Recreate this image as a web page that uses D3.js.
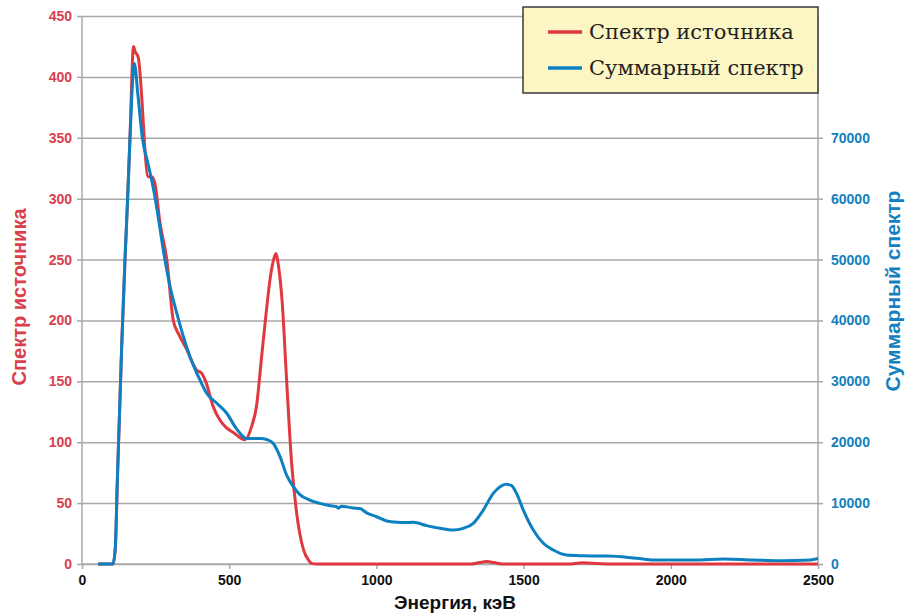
<!DOCTYPE html>
<html><head><meta charset="utf-8">
<script src="https://cdn.jsdelivr.net/npm/d3@7"></script>
<style>
html,body{margin:0;padding:0;background:#fff;}
svg{display:block;}
</style></head>
<body>
<svg id="chart" width="908" height="615"></svg>
<script>
// ---- data ----
const xTicks = [0, 500, 1000, 1500, 2000, 2500];
const leftTicks = [0, 50, 100, 150, 200, 250, 300, 350, 400, 450];
const rightTicks = [0, 10000, 20000, 30000, 40000, 50000, 60000, 70000];

const seriesNames = ["Спектр источника", "Суммарный спектр"];

// Source spectrum (left axis)
const sourceEnergy = [55,105,113,120,135,146,155,163,175,180,191,225,237,248,265,288,310,330,356,390,405,420,446,469,490,514,554,575,593,610,625,640,652,659,666,680,695,712,729,752,770,780,800,1320,1350,1375,1400,1430,1650,1700,1750,1800,2500];
const sourceCounts = [0,0,12,68,180,250,300,350,425,421,416,318,318,312,280,250,200,188,176,159,157,150,129,118,112,108,102,112,130,170,205,236,251,255,247,215,151,83,42,12,3,0.5,0,0,1.2,2,1.2,0,0,1,0.5,0,0];

// Summed spectrum (right axis)
const sumEnergy = [55,105,113,120,135,146,155,163,178,190,205,225,245,262,280,299,322,344,367,401,424,458,491,525,559,605,630,650,673,695,718,740,774,808,840,865,872,880,921,944,967,1001,1035,1069,1100,1125,1171,1216,1261,1295,1329,1363,1397,1420,1440,1458,1476,1499,1533,1567,1601,1646,1703,1760,1786,1884,1943,2081,2179,2278,2376,2474,2500];
const sumCounts = [0,0,2600,13800,36000,50000,60000,70000,82200,77000,70000,65600,61000,56000,50400,45600,41200,37400,34000,30200,28000,26400,24800,22200,20600,20600,20400,19800,17600,14600,12700,11400,10500,9960,9600,9400,9160,9500,9200,9100,8400,7760,7060,6840,6800,6840,6300,5860,5580,5860,6680,8860,11600,12700,13100,12900,11600,8860,5580,3400,2300,1480,1360,1320,1320,940,660,660,840,660,540,660,900];

// ---- layout ----
const svg = d3.select("#chart");
const L = 82, R = 818, T = 16, B = 564;
const red = "#e0383f", blue = "#0d80c2", redText = "#d9404c", blueText = "#1480bd", grid = "#a8a8a8";

const x = d3.scaleLinear().domain([0, 2500]).range([L, R]);
const y = d3.scaleLinear().domain([0, 450]).range([B, T]);
const y2 = d3.scaleLinear().domain([0, 90000]).range([B, T]);

// gridlines
const gGrid = svg.append("g").attr("transform", `translate(${L},0)`)
  .call(d3.axisLeft(y).tickValues(leftTicks).tickSize(-(R - L)).tickFormat(""));
gGrid.select(".domain").remove();
gGrid.selectAll("line").attr("stroke", grid).attr("stroke-width", 1.5);

const tickFont = "bold 14px 'Liberation Sans', Arial, sans-serif";

// left axis
const gL = svg.append("g").attr("transform", `translate(${L},0)`)
  .call(d3.axisLeft(y).tickValues(leftTicks).tickSize(5).tickPadding(5));
gL.select(".domain").attr("stroke", grid).attr("stroke-width", 1.5).attr("d", `M0,${B}V${T}`);
gL.selectAll(".tick line").attr("stroke", grid).attr("stroke-width", 1.5);
gL.selectAll(".tick text").attr("fill", redText).style("font", tickFont);

// right axis
const gR = svg.append("g").attr("transform", `translate(${R},0)`)
  .call(d3.axisRight(y2).tickValues(rightTicks).tickSize(5).tickPadding(8).tickFormat(d3.format("d")));
gR.select(".domain").attr("stroke", grid).attr("stroke-width", 1.5).attr("d", `M0,${B}V${T}`);
gR.selectAll(".tick line").attr("stroke", grid).attr("stroke-width", 1.5);
gR.selectAll(".tick text").attr("fill", blueText).style("font", tickFont);

// bottom axis
const gB = svg.append("g").attr("transform", `translate(0,${B})`)
  .call(d3.axisBottom(x).tickValues(xTicks).tickSize(5).tickPadding(6).tickFormat(d3.format("d")));
gB.select(".domain").attr("stroke", grid).attr("stroke-width", 1.5).attr("d", `M${L},0H${R}`);
gB.selectAll(".tick line").attr("stroke", grid).attr("stroke-width", 1.5);
gB.selectAll(".tick text").attr("fill", "#111").style("font", tickFont);

// lines
const srcData = sourceEnergy.map((e, i) => [e, sourceCounts[i]]);
const sumData = sumEnergy.map((e, i) => [e, sumCounts[i]]);

svg.append("path").datum(srcData)
  .attr("fill", "none").attr("stroke", red).attr("stroke-width", 3).attr("stroke-linejoin", "round")
  .attr("d", d3.line().x(d => x(d[0])).y(d => y(d[1])).curve(d3.curveMonotoneX));

svg.append("path").datum(sumData)
  .attr("fill", "none").attr("stroke", blue).attr("stroke-width", 3).attr("stroke-linejoin", "round")
  .attr("d", d3.line().x(d => x(d[0])).y(d => y2(d[1])).curve(d3.curveMonotoneX));

// axis titles
svg.append("text").attr("transform", `translate(26,297) rotate(-90)`)
  .attr("text-anchor", "middle").attr("fill", redText)
  .style("font", "bold 20px 'Liberation Sans', Arial, sans-serif").text(seriesNames[0]);
svg.append("text").attr("transform", `translate(900,291) rotate(-90)`)
  .attr("text-anchor", "middle").attr("fill", blueText)
  .style("font", "bold 21px 'Liberation Sans', Arial, sans-serif").text(seriesNames[1]);
svg.append("text").attr("x", 455).attr("y", 609)
  .attr("text-anchor", "middle").attr("fill", "#111")
  .style("font", "bold 19px 'Liberation Sans', Arial, sans-serif").text("Энергия, кэВ");

// legend
const lg = svg.append("g");
lg.append("rect").attr("x", 523).attr("y", 7).attr("width", 295).attr("height", 86)
  .attr("fill", "#fcf5c4").attr("stroke", "#3a3a3a").attr("stroke-width", 1.5);
const legendItems = [{name: seriesNames[0], color: red, yy: 32}, {name: seriesNames[1], color: blue, yy: 68}];
legendItems.forEach(it => {
  lg.append("line").attr("x1", 548).attr("x2", 582).attr("y1", it.yy).attr("y2", it.yy)
    .attr("stroke", it.color).attr("stroke-width", 3.5);
  lg.append("text").attr("x", 589).attr("y", it.yy + 7).attr("fill", "#222")
    .style("font", "21px 'DejaVu Serif', 'Liberation Serif', serif").text(it.name);
});
</script>
</body></html>
